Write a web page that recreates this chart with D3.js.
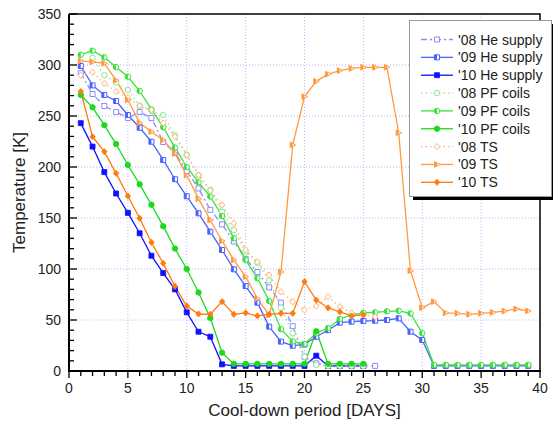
<!DOCTYPE html>
<html><head><meta charset="utf-8">
<script src="https://cdn.jsdelivr.net/npm/d3@7"></script>
<style>
html,body{margin:0;padding:0;background:#fff;}
svg{display:block;font-family:"Liberation Sans",Arial,sans-serif;}
</style></head>
<body><svg id="chart" width="553" height="421"></svg>
<script>
// ---- data ----
const xTicks = [0,5,10,15,20,25,30,35,40];
const yTicks = [0,50,100,150,200,250,300,350];
const seriesNames = ["'08 He supply","'09 He supply","'10 He supply","'08 PF coils","'09 PF coils","'10 PF coils","'08 TS","'09 TS","'10 TS"];

const days08He = d3.range(1,27);
const he08 = [292,271.6,259.8,254,248,254,248,224.5,214,196,179,158,143.8,127,110,97,82,67,44,14,7.5,5,5,5,5,5];
const days09He = d3.range(1,40);
const he09 = [299,280,270.6,264.7,251,238.5,224.8,206.9,188,171.3,154.6,136.6,118.6,99.7,83.3,67,43.5,28.8,24.8,26,33.6,40,47.4,48.4,49,49.3,50,51.6,38.5,30.4,5,5,5,5,5,5,5,5,5];
const days10He = d3.range(1,26);
const he10 = [243,220,195,174,155,135,113,96,80,57.5,38.5,33.6,6.5,5,5,5,5,5,5,5,15,5,5,5,5];

const days08PF = d3.range(2,26);
const pf08 = [307,290,283,275.5,260,255,251,231,212,192,177.5,156,138,117,105.6,89,62,37,14,6,5,5,5,5];
const days09PF = d3.range(1,40);
const pf09 = [310,314,307.5,298,288.5,274.5,256.5,239,219,200,185,171,152,130,109,91,68.6,41,29,26.5,37,42,51,55,57,57.5,58.5,59,56.5,37,6,6,6,6,6,6,6,6,6];
const days10PF = d3.range(1,26);
const pf10 = [270.6,258.5,241,222.5,202,183,163,142,120,100,77,52,18,7,7,7,7,7,7,7,39,7,7,7,7];

const days08TS = d3.range(1,27);
const ts08 = [290,293,282,274,268,260,256,243,229.7,212,192,177,162.7,144.8,118.6,107,94,77.7,68,59.8,63.7,72.8,63,57,55,53];
const days09TS = d3.range(1,40);
const ts09 = [304,303,301.6,285,265.7,243.4,234.6,226.5,213.4,192,169,148,127.5,108.8,92.5,71,55,97,221.6,269,284,291,294.5,296.7,297.7,297.7,297.7,233.6,98.3,62,68,57,56.5,55.6,56.5,57.5,58.8,60.8,59];
const days10TS = d3.range(1,26);
const ts10 = [274,229.7,215,193.8,171.5,149.7,126,105.6,83,63.7,55.9,55.6,68,55.6,57,54,55.6,56.5,56.5,87.6,69.6,62,58,54,55];

// ---- styles ----
const styles = [
  {days:days08He, vals:he08, color:"#8a8cff", dash:"6,3,2,3", shape:"square", fill:"open"},
  {days:days09He, vals:he09, color:"#4a62ff", dash:null, shape:"square", fill:"half"},
  {days:days10He, vals:he10, color:"#1010ff", dash:null, shape:"square", fill:"full"},
  {days:days08PF, vals:pf08, color:"#8ee88e", dash:"1.5,3", shape:"circle", fill:"open"},
  {days:days09PF, vals:pf09, color:"#3ae23a", dash:null, shape:"circle", fill:"half"},
  {days:days10PF, vals:pf10, color:"#1ed81e", dash:null, shape:"circle", fill:"full"},
  {days:days08TS, vals:ts08, color:"#ffb27a", dash:"1.5,3", shape:"diamond", fill:"open"},
  {days:days09TS, vals:ts09, color:"#ff9a40", dash:null, shape:"triangle", fill:"half"},
  {days:days10TS, vals:ts10, color:"#ff7a10", dash:null, shape:"diamond", fill:"full"}
];

const svg = d3.select("#chart");
const L=69, R=540, T=14, B=371;
const x = d3.scaleLinear().domain([0,40]).range([L,R]);
const y = d3.scaleLinear().domain([0,350]).range([B,T]);

svg.append("defs").append("clipPath").attr("id","halfclip")
  .append("rect").attr("x",-10).attr("y",-10).attr("width",10).attr("height",20);
svg.select("defs").append("clipPath").attr("id","plotclip")
  .append("rect").attr("x",L).attr("y",T).attr("width",R-L).attr("height",B-T);

// grid
const grid = svg.append("g");
[5,10,15,20,25,30,35].forEach(v=>{
  grid.append("line").attr("x1",x(v)).attr("x2",x(v)).attr("y1",T).attr("y2",B)
    .attr("stroke","#b4b4ff").attr("stroke-width",1).attr("stroke-dasharray","1,2");
});
[50,100,150,200,250,300].forEach(v=>{
  grid.append("line").attr("x1",L).attr("x2",R).attr("y1",y(v)).attr("y2",y(v))
    .attr("stroke","#b4b4ff").attr("stroke-width",1).attr("stroke-dasharray","1,2");
});

function shapePath(shape,s){
  const h=s/2;
  if(shape==="square") return `M${-h},${-h}H${h}V${h}H${-h}Z`;
  if(shape==="circle") return d3.symbol(d3.symbolCircle, Math.PI*h*h)();
  if(shape==="diamond") return `M0,${-h*1.25}L${h*1.1},0L0,${h*1.25}L${-h*1.1},0Z`;
  if(shape==="triangle") return `M${-h},${-h*1.15}L${h*1.2},0L${-h},${h*1.15}Z`;
}
function drawMarker(g,st,cx,cy){
  const m=g.append("g").attr("transform",`translate(${cx},${cy})`);
  const s = st.shape==="circle"?5.5:5;
  const p=shapePath(st.shape,s);
  if(st.fill==="full"){
    m.append("path").attr("d",p).attr("fill",st.color).attr("stroke",st.color).attr("stroke-width",0.8);
  } else if(st.fill==="open"){
    m.append("path").attr("d",p).attr("fill","#fff").attr("stroke",st.color).attr("stroke-width",1);
  } else {
    m.append("path").attr("d",p).attr("fill","#fff").attr("stroke",st.color).attr("stroke-width",1);
    m.append("path").attr("d",p).attr("fill",st.color).attr("clip-path","url(#halfclip)");
  }
}

const line = d3.line().x(d=>x(d[0])).y(d=>y(d[1]));
const plot = svg.append("g").attr("clip-path","url(#plotclip)");
styles.forEach(st=>{
  const pts = st.days.map((d,i)=>[d,st.vals[i]]);
  plot.append("path").attr("d",line(pts)).attr("fill","none")
    .attr("stroke",st.color).attr("stroke-width",1.3)
    .attr("stroke-dasharray",st.dash);
});
styles.forEach(st=>{
  const g=plot.append("g");
  st.days.forEach((d,i)=>drawMarker(g,st,x(d),y(st.vals[i])));
});

// frame
svg.append("path").attr("d",`M${L},${T}H${R}V${B}`).attr("fill","none").attr("stroke","#000").attr("stroke-width",1.5);

// axes
const xAxis = svg.append("g");
xAxis.append("line").attr("x1",L).attr("x2",R+1).attr("y1",B).attr("y2",B).attr("stroke","#000").attr("stroke-width",2);
d3.range(0,41).forEach(v=>{
  const major = v%5===0;
  xAxis.append("line").attr("x1",x(v)).attr("x2",x(v)).attr("y1",B).attr("y2",B+(major?7:5))
    .attr("stroke","#000").attr("stroke-width",1.3);
});
xTicks.forEach(v=>{
  xAxis.append("text").attr("x",x(v)).attr("y",B+22).attr("text-anchor","middle")
    .attr("font-size",14).attr("fill","#222").text(v);
});
const yAxis = svg.append("g");
yAxis.append("line").attr("x1",L).attr("x2",L).attr("y1",T).attr("y2",B+1).attr("stroke","#000").attr("stroke-width",2);
d3.range(0,351,10).forEach(v=>{
  const major = v%50===0;
  yAxis.append("line").attr("x1",L).attr("x2",L+(major?8:5)).attr("y1",y(v)).attr("y2",y(v))
    .attr("stroke","#000").attr("stroke-width",1.3);
});
yTicks.forEach(v=>{
  yAxis.append("text").attr("x",L-8).attr("y",y(v)+5).attr("text-anchor","end")
    .attr("font-size",14).attr("fill","#222").text(v);
});

svg.append("text").attr("x",x(20)).attr("y",416).attr("text-anchor","middle")
  .attr("font-size",17).attr("fill","#222").text("Cool-down period [DAYS]");
svg.append("text").attr("transform",`translate(25,${(T+B)/2}) rotate(-90)`).attr("text-anchor","middle")
  .attr("font-size",17).attr("fill","#222").text("Temperature [K]");

// legend
const lg = svg.append("g");
lg.append("rect").attr("x",413).attr("y",24).attr("width",145).attr("height",176).attr("fill","#000");
lg.append("rect").attr("x",409.5).attr("y",20.5).attr("width",142).attr("height",176).attr("fill","#fff").attr("stroke","#999").attr("stroke-width",1);
styles.forEach((st,i)=>{
  const cy = 39.5 + i*17.85;
  lg.append("line").attr("x1",421).attr("x2",453).attr("y1",cy).attr("y2",cy)
    .attr("stroke",st.color).attr("stroke-width",1.3).attr("stroke-dasharray",st.dash);
  drawMarker(lg,st,437,cy);
  lg.append("text").attr("x",458).attr("y",cy+5).attr("font-size",14).attr("fill","#222").text(seriesNames[i]);
});
</script></body></html>
